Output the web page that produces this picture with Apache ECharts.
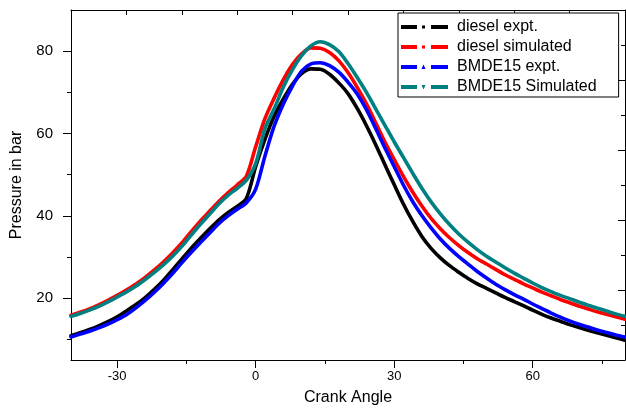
<!DOCTYPE html>
<html>
<head>
<meta charset="utf-8">
<script src="https://cdn.jsdelivr.net/npm/echarts@6/dist/echarts.min.js"></script>
<style>
html,body{margin:0;padding:0;background:#fff;}
#chart{width:626px;height:412px;}
</style>
</head>
<body>
<div id="chart"></div>
<script>
const crankAngle = [-40,-38,-36,-34,-32,-30,-28,-26,-24,-22,
  -20,-18,-16,-14,-12,-10,-8,-6,-4,-2,
  0,2,4,6,8,10,12,14,16,18,
  20,22,24,26,28,30,32,34,36,38,
  40,42,44,46,48,50,52,54,56,58,
  60,62,64,66,68,70,72,74,76,78,80];
const dieselExpt = [10.9,11.6,12.4,13.3,14.3,15.5,16.9,18.4,20.1,22.1,
  24.3,26.9,29.5,32.1,34.5,36.8,39.0,40.8,42.3,44.3,
  52.0,58.6,64.2,68.4,72.0,74.6,75.7,75.6,74.4,72.3,
  69.7,66.1,61.9,57.3,52.4,47.6,42.9,38.7,35.0,32.1,
  29.8,27.9,26.3,24.8,23.5,22.4,21.3,20.2,19.2,18.2,
  17.1,16.1,15.2,14.4,13.6,12.9,12.2,11.6,11.0,10.4,9.8];
const dieselSim = [15.9,16.6,17.4,18.4,19.5,20.7,22.0,23.4,25.0,26.8,
  28.8,31.0,33.4,36.1,38.7,41.1,43.5,45.6,47.5,49.7,
  56.8,63.6,68.6,73.1,76.8,79.4,80.8,80.7,79.7,77.7,
  74.8,71.2,67.2,62.6,57.9,53.7,49.6,45.8,42.4,39.4,
  36.9,34.7,32.8,31.1,29.6,28.3,27.0,25.7,24.6,23.5,
  22.5,21.5,20.6,19.7,18.9,18.1,17.4,16.7,16.1,15.5,14.9];
const bmdeExpt = [10.6,11.3,12.0,12.8,13.7,14.8,16.0,17.6,19.4,21.4,
  23.6,26.0,28.6,31.1,33.5,35.8,38.1,40.0,41.6,43.2,
  46.5,54.5,61.8,67.2,71.6,75.2,76.9,77.2,76.5,74.9,
  72.5,69.6,65.8,61.2,56.5,52.0,47.5,43.5,40.1,37.1,
  34.4,32.1,30.1,28.3,26.5,24.9,23.4,22.1,20.9,19.8,
  18.6,17.5,16.4,15.4,14.5,13.7,13.0,12.3,11.7,11.1,10.6];
const bmdeSim = [15.6,16.3,17.1,18.0,19.1,20.3,21.5,22.9,24.5,26.2,
  28.1,30.2,32.6,35.3,37.9,40.4,42.9,45.0,46.7,48.7,
  52.7,61.2,66.0,71.3,75.6,79.0,81.3,82.3,81.6,79.9,
  77.0,73.6,70.0,66.0,62.0,58.0,54.2,50.4,46.7,43.4,
  40.5,37.9,35.6,33.6,31.8,30.2,28.8,27.4,26.1,24.9,
  23.7,22.6,21.6,20.7,19.9,19.1,18.3,17.6,16.9,16.2,15.6];

const seriesNames = ['diesel expt.','diesel simulated','BMDE15 expt.','BMDE15 Simulated'];
const seriesColors = ['#000000','#ff0000','#0000ff','#008080'];
const seriesValues = [dieselExpt, dieselSim, bmdeExpt, bmdeSim];

const xMajorTicks = [-30,0,30,60];
const xMinorTicks = [-15,15,45,75];
const xTopTicks = [-28,-16,-4,8,20,32,44,56,68];
const yMajorTicks = [20,40,60,80];
const yMinorTicks = [10,30,50,70];

// legend icons: dash - marker - dash, drawn in a 47x16 box
const box = 'M0,0h0.01v0.01h-0.01Z M46.99,15.99h0.01v0.01h-0.01Z ';
const dashes = 'M0,6h16v4h-16Z M30,6h17v4h-17Z ';
const legendIcons = [
  'path://' + box + dashes + 'M21,6.5h3v3h-3Z',
  'path://' + box + dashes + 'M21,6.5h3v3h-3Z',
  'path://' + box + dashes + 'M20.5,10L22.5,5.5L24.5,10Z',
  'path://' + box + dashes + 'M20.5,6L24.5,6L22.5,10.5Z'
];

const chart = echarts.init(document.getElementById('chart'), null, {renderer:'canvas'});
const font = 'Liberation Sans, Arial, Helvetica, sans-serif';
const axisLine = {show:true, onZero:false, lineStyle:{color:'#000', width:1}};
const noLine = {show:false, onZero:false};

const option = {
  animation:false,
  backgroundColor:'#fff',
  grid:{left:71, right:1, top:10, bottom:52, containLabel:false},
  legend:{
    orient:'vertical', left:398, top:13,
    data:seriesNames.map((n, i) => ({name:n, icon:legendIcons[i]})),
    backgroundColor:'#fff', borderColor:'#000', borderWidth:1, borderRadius:0,
    padding:[6,22,2,3],
    itemWidth:47, itemHeight:16, itemGap:4,
    textStyle:{fontFamily:font, fontSize:16, color:'#000', padding:[0,0,0,4]}
  },
  xAxis:[
    {type:'value', position:'bottom', min:-40, max:80,
     name:'Crank Angle', nameLocation:'middle', nameGap:30,
     nameTextStyle:{fontFamily:font, fontSize:16, color:'#000'},
     axisLine:axisLine, splitLine:{show:false},
     axisTick:{show:true, inside:false, length:8, customValues:xMajorTicks, lineStyle:{color:'#000'}},
     axisLabel:{show:true, customValues:xMajorTicks, margin:10, fontFamily:font, fontSize:13, color:'#000'}},
    {type:'value', position:'bottom', min:-40, max:80,
     axisLine:noLine, splitLine:{show:false},
     axisTick:{show:true, inside:false, length:4, customValues:xMinorTicks, lineStyle:{color:'#000'}},
     axisLabel:{show:false}},
    {type:'value', position:'top', min:-40, max:80,
     axisLine:axisLine, splitLine:{show:false},
     axisTick:{show:true, inside:true, length:5, customValues:xTopTicks, lineStyle:{color:'#000'}},
     axisLabel:{show:false}}
  ],
  yAxis:[
    {type:'value', position:'left', min:5, max:90,
     name:'Pressure in bar', nameLocation:'middle', nameGap:46, nameRotate:90,
     nameTextStyle:{fontFamily:font, fontSize:16, color:'#000'},
     axisLine:axisLine, splitLine:{show:false},
     axisTick:{show:true, inside:false, length:8, customValues:yMajorTicks, lineStyle:{color:'#000'}},
     axisLabel:{show:true, customValues:yMajorTicks, margin:18, fontFamily:font, fontSize:15, color:'#000'}},
    {type:'value', position:'left', min:5, max:90,
     axisLine:noLine, splitLine:{show:false},
     axisTick:{show:true, inside:false, length:4, customValues:yMinorTicks, lineStyle:{color:'#000'}},
     axisLabel:{show:false}},
    {type:'value', position:'right', min:0, max:50, interval:10,
     axisLine:axisLine, splitLine:{show:false},
     axisTick:{show:true, inside:true, length:7, lineStyle:{color:'#000'}},
     minorTick:{show:true, splitNumber:2, length:4, lineStyle:{color:'#000'}},
     axisLabel:{show:false}}
  ],
  series: seriesNames.map((name, i) => ({
    name:name, type:'line', xAxisIndex:0, yAxisIndex:0,
    data: crankAngle.map((x, j) => [x, seriesValues[i][j]]),
    smooth:0.3, symbol:'none', showSymbol:false,
    lineStyle:{color:seriesColors[i], width:3.6, join:'round', cap:'round'},
    itemStyle:{color:seriesColors[i]},
    z: 2 + i
  }))
};
chart.setOption(option);
</script>
</body>
</html>
